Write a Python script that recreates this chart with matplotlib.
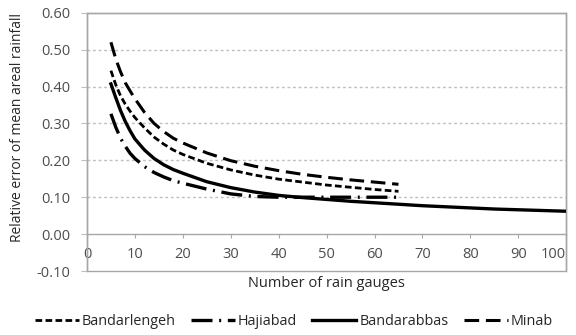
import matplotlib
matplotlib.use("Agg")
import matplotlib.pyplot as plt
from matplotlib.patches import Rectangle

plt.rcParams['font.family'] = ['Open Sans', 'DejaVu Sans']

gauges_short = [5, 6, 7, 8, 9, 10, 12, 14, 16, 18, 20, 25, 30, 35, 40, 45, 50, 55, 60, 65]
gauges_long = [5, 6, 7, 8, 9, 10, 12, 14, 16, 18, 20, 25, 30, 35, 40, 45, 50, 55, 60, 65,
               70, 75, 80, 85, 90, 95, 100]

bandarlengeh = [0.443, 0.405, 0.375, 0.352, 0.333, 0.316, 0.288, 0.263, 0.244, 0.228, 0.216,
                0.192, 0.174, 0.160, 0.149, 0.141, 0.133, 0.127, 0.121, 0.116]
hajiabad = [0.326, 0.290, 0.260, 0.238, 0.219, 0.205, 0.183, 0.167, 0.155, 0.145, 0.138,
            0.122, 0.109, 0.102, 0.100, 0.100, 0.100, 0.100, 0.100, 0.100]
bandarabbas = [0.407, 0.370, 0.335, 0.305, 0.280, 0.258, 0.228, 0.205, 0.188, 0.175, 0.165,
               0.142, 0.126, 0.114, 0.105, 0.099, 0.094, 0.089, 0.085, 0.081,
               0.077, 0.074, 0.071, 0.068, 0.066, 0.064, 0.062]
minab = [0.520, 0.475, 0.440, 0.410, 0.388, 0.367, 0.330, 0.300, 0.278, 0.260, 0.247,
         0.220, 0.199, 0.184, 0.172, 0.162, 0.154, 0.147, 0.141, 0.135]

x_ticks = [0, 10, 20, 30, 40, 50, 60, 70, 80, 90, 100]
y_ticks = [-0.10, 0.00, 0.10, 0.20, 0.30, 0.40, 0.50, 0.60]

fig = plt.figure(figsize=(5.76, 3.35), dpi=100)
ax = fig.add_axes([0.151, 0.191, 0.832, 0.771])

ax.set_xlim(0, 100)
ax.set_ylim(-0.10, 0.60)

grid_c = '#BFBFBF'
frame_c = '#A6A6A6'
text_c = '#4D4D4D'

for y in y_ticks[2:-1]:
    ax.axhline(y, color=grid_c, lw=1.0, ls=(0, (2, 2)), zorder=1)

l1, = ax.plot(gauges_short, bandarlengeh, color='black', lw=2.0, ls=(0, (2.4, 1.2)),
              label='Bandarlengeh', zorder=3)
l2, = ax.plot(gauges_short, hajiabad, color='black', lw=2.4, ls=(0, (6.3, 2.0, 0.6, 2.0)),
              label='Hajiabad', zorder=3)
l3, = ax.plot(gauges_long, bandarabbas, color='black', lw=2.4, ls='-',
              label='Bandarabbas', zorder=3)
l4, = ax.plot(gauges_short, minab, color='black', lw=2.2, ls=(0, (4.8, 2.2)),
              label='Minab', zorder=3)

for s in ['top', 'right', 'left']:
    ax.spines[s].set_color(frame_c)
    ax.spines[s].set_linewidth(1.0)
ax.spines['bottom'].set_position(('data', 0))
ax.spines['bottom'].set_color(frame_c)
ax.spines['bottom'].set_linewidth(1.0)
ax.add_patch(Rectangle((0, 0), 1, 1, transform=ax.transAxes, fill=False,
                       edgecolor=frame_c, lw=1.0, clip_on=False, zorder=0))

ax.set_xticks(x_ticks)
ax.set_xticklabels([str(v) for v in x_ticks])
ax.set_yticks(y_ticks)
ax.set_yticklabels([f'{v:.2f}' for v in y_ticks])
ax.tick_params(axis='x', direction='out', length=3, color=frame_c, labelcolor=text_c,
               labelsize=10.5, pad=6)
ax.tick_params(axis='y', direction='out', length=4, color=grid_c, labelcolor=text_c,
               labelsize=10.5, pad=8)
ax.get_xticklabels()[-1].set_horizontalalignment('right')

ax.set_xlabel('Number of rain gauges', fontsize=10.5, color='#262626')
ax.xaxis.set_label_coords(0.5, -0.047)
ax.xaxis.label.set_va('center')
ax.set_ylabel('Relative error of mean areal rainfall', fontsize=10, color='#262626')
ax.yaxis.set_label_coords(-0.146, 0.554)
ax.yaxis.label.set_va('center')

fig.legend(handles=[l1, l2, l3, l4], loc='center', bbox_to_anchor=(0.51, 0.039),
           ncol=4, frameon=False, fontsize=10.4, handlelength=3.05, handletextpad=0.2,
           columnspacing=1.05, borderpad=0, labelcolor='#262626')

fig.savefig('out.png', dpi=100)
